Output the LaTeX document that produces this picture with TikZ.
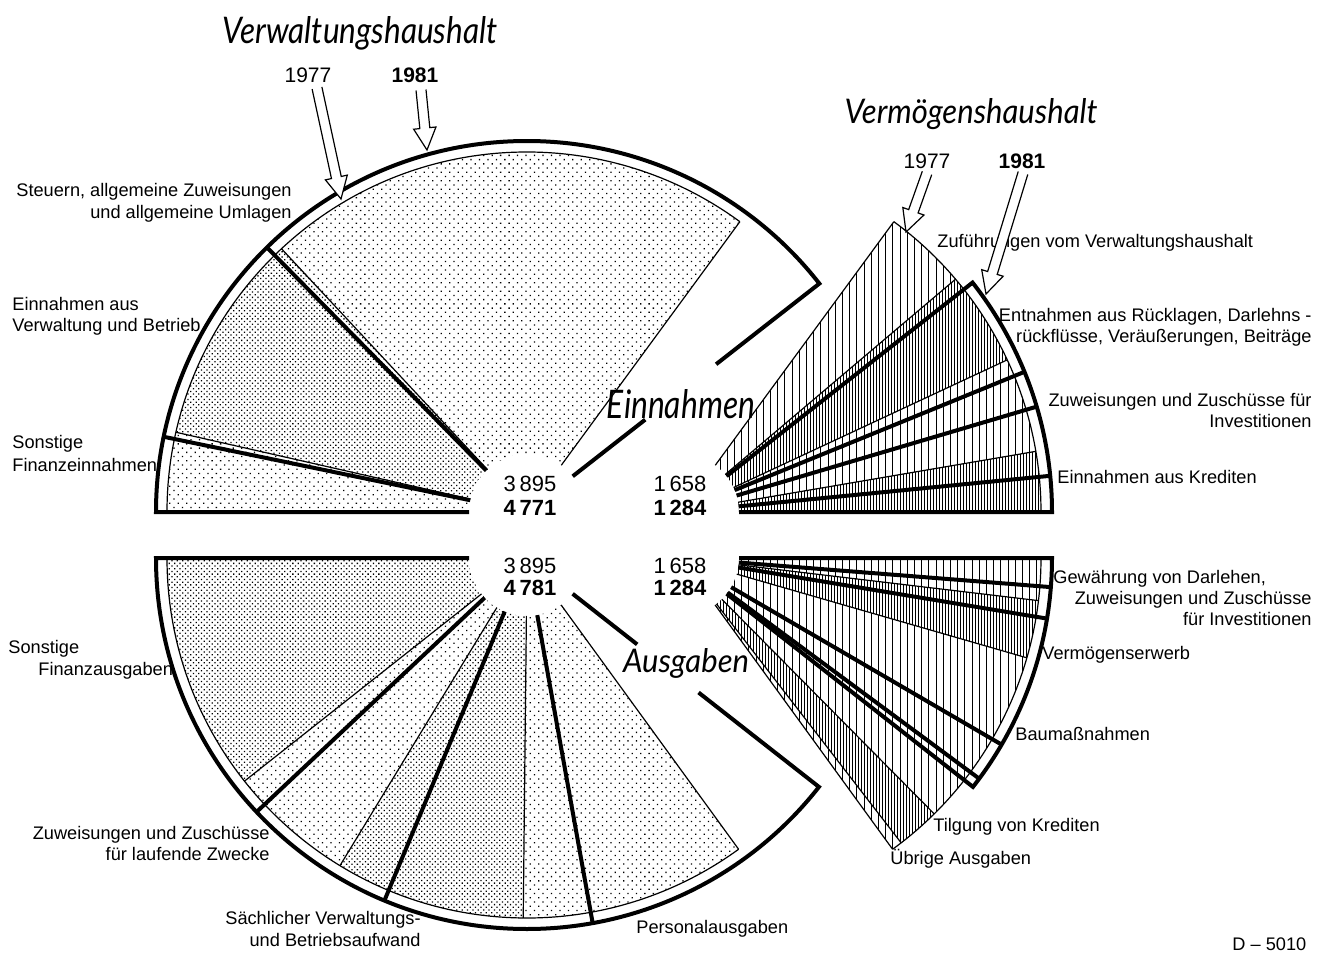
\documentclass[tikz,border=0pt]{standalone}
\usepackage{fontspec}
\setmainfont{Liberation Sans}
\newfontfamily\titlefont{Lato}
\usepackage{graphicx}
\usetikzlibrary{calc,patterns.meta}
\def\Rinner{58}
\def\Rold{360}
\def\Rnew{371}
% filled 1977 sector: center, start angle, end angle, style
\newcommand\pieSector[4]{\path[#4] ([shift={(#2:\Rinner)}]#1) -- ([shift={(#2:\Rold)}]#1) arc[start angle=#2,end angle=#3,radius=\Rold] -- ([shift={(#3:\Rinner)}]#1) arc[start angle=#3,end angle=#2,radius=\Rinner] -- cycle;}
\newcommand\radOld[2]{\draw[l77] ([shift={(#2:\Rinner)}]#1) -- ([shift={(#2:\Rold)}]#1);}
\newcommand\radNew[2]{\draw[l81] ([shift={(#2:\Rinner)}]#1) -- ([shift={(#2:\Rnew)}]#1);}
\newcommand\arcOld[3]{\draw[l77] ([shift={(#2:\Rold)}]#1) arc[start angle=#2,end angle=#3,radius=\Rold];}
\newcommand\hollowArrow[2]{%
  \coordinate (hb) at ($(#2)!11pt!(#1)$);
  \draw[l77, fill=white, line join=miter] ($(#1)!2.5pt!90:(#2)$) -- ($(hb)!2.5pt!90:(#2)$) -- ($(hb)!5.6pt!90:(#2)$) -- (#2) -- ($(hb)!5.6pt!-90:(#2)$) -- ($(hb)!2.5pt!-90:(#2)$) -- ($(#1)!2.5pt!-90:(#2)$);}
\begin{document}
\begin{tikzpicture}[x=0.5pt,y=-0.5pt,
  l77/.style={line width=0.6pt},
  l81/.style={line width=2pt, line join=miter},
  sdots/.style={pattern={Dots[radius=0.45pt,distance=3pt,angle=45]}},
  ddots/.style={pattern={Dots[radius=0.45pt,distance=1.9pt,angle=45]}},
  shatch/.style={pattern={Lines[angle=90,distance=3.6pt,line width=0.5pt]}},
  dhatch/.style={pattern={Lines[angle=90,distance=1.5pt,line width=0.5pt]}},
  lbl/.style={font=\fontsize{9.1pt}{10.5pt}\selectfont, inner sep=0pt},
  year/.style={font=\fontsize{10.5pt}{12pt}\selectfont, inner sep=0pt},
  num/.style={font=\fontsize{11pt}{13pt}\selectfont, inner sep=0pt},
  ttl/.style={inner sep=0pt}]
\fill[white] (0,0) rectangle (1324,953);
\useasboundingbox (0,0) rectangle (1324,953);

\coordinate (A1) at (527,512);
\coordinate (A2) at (527,558);
\coordinate (B1) at (681,512);
\coordinate (B2) at (681,558);

% ---------- Verwaltungshaushalt Einnahmen (upper left) ----------
\pieSector{A1}{180}{192.8}{sdots}
\pieSector{A1}{192.8}{227}{ddots}
\pieSector{A1}{227}{306.25}{sdots}
\radOld{A1}{192.8}\radOld{A1}{227}\radOld{A1}{306.25}
\arcOld{A1}{180}{306.25}
\draw[l81] ([shift={(180:\Rinner)}]A1) -- ([shift={(180:\Rnew)}]A1) arc[start angle=180,end angle=322,radius=\Rnew] -- ([shift={(322:240)}]A1);
\draw[l81] ([shift={(322:150)}]A1) -- ([shift={(322:\Rinner)}]A1);
\radNew{A1}{191.7}\radNew{A1}{225.5}

% ---------- Verwaltungshaushalt Ausgaben (lower left) ----------
\pieSector{A2}{180}{141.7}{ddots}
\pieSector{A2}{141.7}{121.3}{sdots}
\pieSector{A2}{121.3}{90.6}{ddots}
\pieSector{A2}{90.6}{54}{sdots}
\radOld{A2}{141.7}\radOld{A2}{121.3}\radOld{A2}{90.6}\radOld{A2}{54}
\arcOld{A2}{180}{54}
\draw[l81] ([shift={(180:\Rinner)}]A2) -- ([shift={(180:\Rnew)}]A2) arc[start angle=180,end angle=38.1,radius=\Rnew] -- ([shift={(38.1:218)}]A2);
\draw[l81] ([shift={(38.1:140)}]A2) -- ([shift={(38.1:\Rinner)}]A2);
\radNew{A2}{136.8}\radNew{A2}{112.6}\radNew{A2}{79.8}

% ---------- Vermoegenshaushalt Einnahmen (upper right) ----------
\pieSector{B1}{0}{-9.7}{dhatch}
\pieSector{B1}{-9.7}{-25}{shatch}
\pieSector{B1}{-25}{-40.3}{dhatch}
\pieSector{B1}{-40.3}{-53.75}{shatch}
\radOld{B1}{-9.7}\radOld{B1}{-25}\radOld{B1}{-40.3}\radOld{B1}{-53.75}
\arcOld{B1}{0}{-53.75}
\draw[l81] ([shift={(0:\Rinner)}]B1) -- ([shift={(0:\Rnew)}]B1) arc[start angle=0,end angle=-38.2,radius=\Rnew] -- ([shift={(-38.2:\Rinner)}]B1);
\radNew{B1}{-5.6}\radNew{B1}{-16.5}\radNew{B1}{-22.2}

% ---------- Vermoegenshaushalt Ausgaben (lower right) ----------
\pieSector{B2}{0}{6.8}{shatch}
\pieSector{B2}{6.8}{16.1}{dhatch}
\pieSector{B2}{16.1}{45.3}{shatch}
\pieSector{B2}{45.3}{52.3}{dhatch}
\pieSector{B2}{52.3}{54}{shatch}
\radOld{B2}{6.8}\radOld{B2}{16.1}\radOld{B2}{45.3}\radOld{B2}{52.3}\radOld{B2}{54}
\arcOld{B2}{0}{54}
\draw[l81] ([shift={(0:\Rinner)}]B2) -- ([shift={(0:\Rnew)}]B2) arc[start angle=0,end angle=38.1,radius=\Rnew] -- ([shift={(38.1:\Rinner)}]B2);
\radNew{B2}{4.5}\radNew{B2}{9.4}\radNew{B2}{30.2}\radNew{B2}{36.5}

% ---------- titles ----------
\node[ttl, anchor=base] (tVH) at (360,43) {\resizebox{137.5pt}{13.5pt}{\titlefont\itshape Verwaltungshaushalt}};
\node[ttl, anchor=base] (tVmH) at (971,123) {\resizebox{126.5pt}{12.5pt}{\titlefont\itshape Vermögenshaushalt}};
\node[ttl, anchor=base] (tEin) at (681,418) {\resizebox{74pt}{14.5pt}{\titlefont\itshape Einnahmen}};
\node[ttl, anchor=base] (tAus) at (686,672) {\resizebox{63pt}{12pt}{\titlefont\itshape Ausgaben}};

% ---------- years ----------
\node[year, anchor=base] (y1) at (308,83) {1977};
\node[year, anchor=base] (y2) at (415,83) {\bfseries 1981};
\node[year, anchor=base] (y3) at (927,168) {1977};
\node[year, anchor=base] (y4) at (1022,168) {\bfseries 1981};

% ---------- totals ----------
\node[num, anchor=base] (n1) at (530,491) {3\,895};
\node[num, anchor=base] (n2) at (530,515) {\bfseries 4\,771};
\node[num, anchor=base] (n3) at (680,491) {1\,658};
\node[num, anchor=base] (n4) at (680,515) {\bfseries 1\,284};
\node[num, anchor=base] (n5) at (530,573) {3\,895};
\node[num, anchor=base] (n6) at (530,595) {\bfseries 4\,781};
\node[num, anchor=base] (n7) at (680,573) {1\,658};
\node[num, anchor=base] (n8) at (680,595) {\bfseries 1\,284};

% ---------- labels ----------
\node[lbl, anchor=base east] (l1a) at (292,196) {Steuern, allgemeine Zuweisungen};
\node[lbl, anchor=base east] (l1b) at (292,218) {und allgemeine Umlagen};
\node[lbl, anchor=base west] (l2a) at (12,310) {Einnahmen aus};
\node[lbl, anchor=base west] (l2b) at (12,331) {Verwaltung und Betrieb};
\node[lbl, anchor=base west] (l3a) at (12,448) {Sonstige};
\node[lbl, anchor=base west] (l3b) at (12,471) {Finanzeinnahmen};
\node[lbl, anchor=base west] (l4a) at (8,653) {Sonstige};
\node[lbl, anchor=base west] (l4b) at (38,675) {Finanzausgaben};
\node[lbl, anchor=base east] (l5a) at (270,839) {Zuweisungen und Zuschüsse};
\node[lbl, anchor=base east] (l5b) at (270,860) {für laufende Zwecke};
\node[lbl, anchor=base east] (l6a) at (421,924) {Sächlicher Verwaltungs-};
\node[lbl, anchor=base east] (l6b) at (421,946) {und Betriebsaufwand};
\node[lbl, anchor=base west] (l7) at (636,933) {Personalausgaben};
\node[lbl, anchor=base west] (r1a) at (1053,583) {Gewährung von Darlehen,};
\node[lbl, anchor=base east] (r1b) at (1312,604) {Zuweisungen und Zuschüsse};
\node[lbl, anchor=base east] (r1c) at (1312,625) {für Investitionen};
\node[lbl, anchor=base west] (r2) at (1042,659) {Vermögenserwerb};
\node[lbl, anchor=base west] (r3) at (1015,740) {Baumaßnahmen};
\node[lbl, anchor=base west] (r4) at (933,831) {Tilgung von Krediten};
\node[lbl, anchor=base west] (r5) at (890,864) {Übrige Ausgaben};
\node[lbl, anchor=base west] (u1) at (937,247) {Zuführungen vom Verwaltungshaushalt};
\node[lbl, anchor=base east] (u2a) at (1312,321) {Entnahmen aus Rücklagen, Darlehns -};
\node[lbl, anchor=base east] (u2b) at (1312,342) {rückflüsse, Veräußerungen, Beiträge};
\node[lbl, anchor=base east] (u3a) at (1312,406) {Zuweisungen und Zuschüsse für};
\node[lbl, anchor=base east] (u3b) at (1312,427) {Investitionen};
\node[lbl, anchor=base west] (u4) at (1057,483) {Einnahmen aus Krediten};
\node[lbl, anchor=base west] (code) at (1232,950) {D – 5010};

% ---------- arrows ----------
\coordinate (a1t) at (317,88);  \coordinate (a1h) at (341,199);
\coordinate (a2t) at (421,90);  \coordinate (a2h) at (427,150);
\coordinate (a3t) at (927,173); \coordinate (a3h) at (906,232);
\coordinate (a4t) at (1023,173); \coordinate (a4h) at (986,294);
\hollowArrow{a1t}{a1h}
\hollowArrow{a2t}{a2h}
\hollowArrow{a3t}{a3h}
\hollowArrow{a4t}{a4h}
\end{tikzpicture}
\end{document}
